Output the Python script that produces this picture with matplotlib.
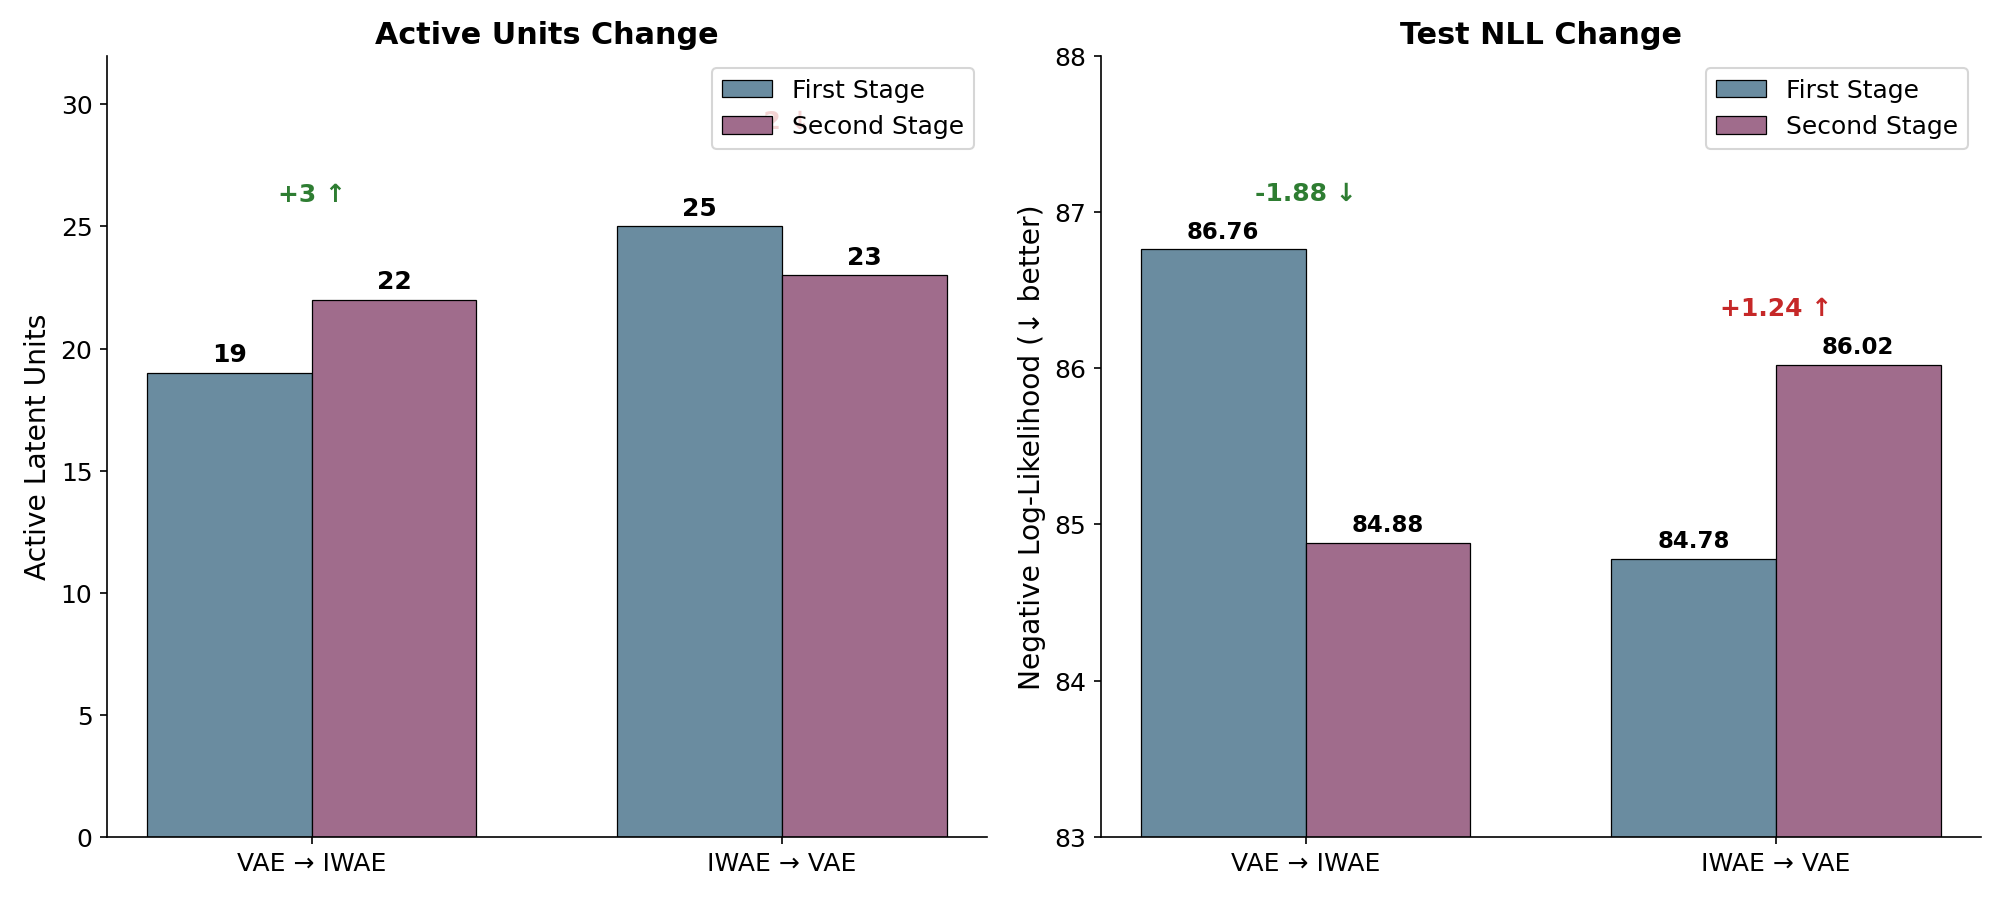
import numpy as np
import matplotlib.pyplot as plt

# data
transitions = ['VAE → IWAE', 'IWAE → VAE']
au_first = [19, 25]
au_second = [22, 23]
nll_first = [86.76, 84.78]
nll_second = [84.88, 86.02]

c_first = '#6a8ca0'
c_second = '#a06c8c'
c_good = '#2e7d32'
c_bad = '#c62828'

fig, (ax1, ax2) = plt.subplots(1, 2, figsize=(13.33, 5.99), dpi=150)
fig.subplots_adjust(left=0.0535, right=0.9905, top=0.9376, bottom=0.068, wspace=0.13)

x = np.arange(len(transitions))
w = 0.35

# --- left: active units
b1 = ax1.bar(x - w/2, au_first, w, color=c_first, edgecolor='black', linewidth=0.6, label='First Stage')
b2 = ax1.bar(x + w/2, au_second, w, color=c_second, edgecolor='black', linewidth=0.6, label='Second Stage')
for bars in (b1, b2):
    for b in bars:
        ax1.annotate(f'{int(b.get_height())}', (b.get_x() + b.get_width()/2, b.get_height()),
                     xytext=(0, 3), textcoords='offset points', ha='center', va='bottom',
                     fontsize=12, fontweight='bold')
for i in range(len(x)):
    d = au_second[i] - au_first[i]
    if d > 0:
        txt, col = f'+{d} ↑', c_good
    else:
        txt, col = f'{d} ↓', c_bad
    ax1.text(x[i], max(au_first[i], au_second[i]) + 4.3, txt, ha='center', va='center',
             fontsize=12, fontweight='bold', color=col)
ax1.set_ylim(0, 32)
ax1.set_ylabel('Active Latent Units', fontsize=13.5)
ax1.set_title('Active Units Change', fontsize=14.5, fontweight='bold')
ax1.set_xticks(x)
ax1.set_xticklabels(transitions)
ax1.legend(loc='upper right', fontsize=12)

# --- right: test NLL
b1 = ax2.bar(x - w/2, nll_first, w, color=c_first, edgecolor='black', linewidth=0.6, label='First Stage')
b2 = ax2.bar(x + w/2, nll_second, w, color=c_second, edgecolor='black', linewidth=0.6, label='Second Stage')
for bars in (b1, b2):
    for b in bars:
        ax2.annotate(f'{b.get_height():.2f}', (b.get_x() + b.get_width()/2, b.get_height()),
                     xytext=(0, 3), textcoords='offset points', ha='center', va='bottom',
                     fontsize=11, fontweight='bold')
for i in range(len(x)):
    d = nll_second[i] - nll_first[i]
    if d < 0:
        txt, col = f'{d:.2f} ↓', c_good
    else:
        txt, col = f'+{d:.2f} ↑', c_bad
    ax2.text(x[i], max(nll_first[i], nll_second[i]) + 0.36, txt, ha='center', va='center',
             fontsize=12, fontweight='bold', color=col)
ax2.set_ylim(83, 88)
ax2.set_ylabel('Negative Log-Likelihood (↓ better)', fontsize=13.5)
ax2.set_title('Test NLL Change', fontsize=14.5, fontweight='bold')
ax2.set_xticks(x)
ax2.set_xticklabels(transitions)
ax2.legend(loc='upper right', fontsize=12)

for ax in (ax1, ax2):
    ax.spines['top'].set_visible(False)
    ax.spines['right'].set_visible(False)
    ax.tick_params(labelsize=12)

fig.savefig('out.png', dpi=150)
